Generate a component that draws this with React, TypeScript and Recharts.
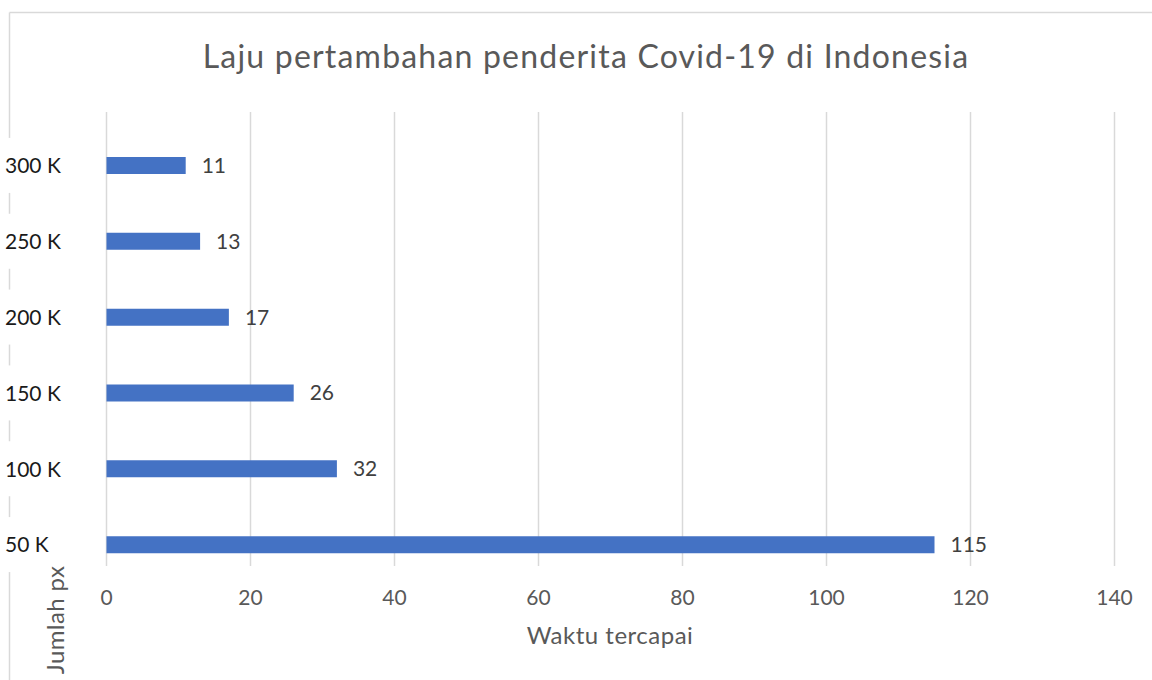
import React from 'react';
import { BarChart, Bar, XAxis, YAxis, CartesianGrid, LabelList } from 'recharts';

const categories = ['300 K', '250 K', '200 K', '150 K', '100 K', '50 K'];
const days = [11, 13, 17, 26, 32, 115];
const xTicks = [0, 20, 40, 60, 80, 100, 120, 140];
const title = 'Laju pertambahan penderita Covid-19 di Indonesia';
const xTitle = 'Waktu tercapai';
const yTitle = 'Jumlah px';

const data = categories.map((c, i) => ({ cat: c, value: days[i] }));
const FONT = 'Lato, "Noto Sans", sans-serif';

const YTick = (props: any) => {
  const { y, payload } = props;
  return (
    <g>
      <rect x={3} y={y - 28} width={62} height={55} fill="#ffffff" />
      <text x={5} y={y} dy="0.35em" textAnchor="start" fontFamily={FONT} fontSize={21} fill="#1a1a1a">
        {payload.value}
      </text>
    </g>
  );
};

const XTick = (props: any) => {
  const { x, y, payload } = props;
  return (
    <text x={x} y={y} dy="0.35em" textAnchor="middle" fontFamily={FONT} fontSize={21} fill="#595959">
      {payload.value}
    </text>
  );
};

export default function App() {
  return (
    <div style={{ position: 'absolute', left: 0, top: 0, width: 1152, height: 680, background: '#fff' }}>
      <svg width={1152} height={680} style={{ position: 'absolute', left: 0, top: 0 }}>
        <line x1={9.5} y1={12.5} x2={1152} y2={12.5} stroke="#d9d9d9" strokeWidth={1.5} />
        <line x1={9.5} y1={12.5} x2={9.5} y2={680} stroke="#d9d9d9" strokeWidth={1.5} />
      </svg>
      <div style={{ position: 'absolute', left: 0, top: 0 }}>
        <BarChart
          width={1152}
          height={680}
          data={data}
          layout="vertical"
          margin={{ top: 112, right: 37.5, bottom: 84, left: 0 }}
        >
          <CartesianGrid horizontal={false} stroke="#d9d9d9" strokeWidth={1.5} />
          <XAxis
            type="number"
            domain={[0, 140]}
            ticks={xTicks}
            axisLine={false}
            tickLine={false}
            tickSize={0}
            tickMargin={32}
            height={30}
            tick={XTick}
            interval={0}
          />
          <YAxis
            type="category"
            dataKey="cat"
            width={106.5}
            axisLine={false}
            tickLine={false}
            padding={{ top: 16, bottom: -17 }}
            tick={YTick}
            interval={0}
          />
          <Bar dataKey="value" fill="#4472c4" barSize={17} isAnimationActive={false}>
            <LabelList dataKey="value" position="right" offset={16} fontFamily={FONT} fontSize={21} fill="#404040" />
          </Bar>
        </BarChart>
      </div>
      <svg
        width={1152}
        height={680}
        style={{ position: 'absolute', left: 0, top: 0, pointerEvents: 'none' }}
      >
        <text
          x={586}
          y={57}
          dy="0.35em"
          textAnchor="middle"
          fontFamily={FONT}
          fontSize={32}
          letterSpacing={1.2}
          fill="#595959"
        >
          {title}
        </text>
        <text
          x={610}
          y={636}
          dy="0.35em"
          textAnchor="middle"
          fontFamily={FONT}
          fontSize={24}
          letterSpacing={0.5}
          fill="#595959"
        >
          {xTitle}
        </text>
        <text
          x={56}
          y={620}
          dy="0.35em"
          textAnchor="middle"
          fontFamily={FONT}
          fontSize={24}
          letterSpacing={0.4}
          fill="#595959"
          transform="rotate(-90 56 620)"
        >
          {yTitle}
        </text>
      </svg>
    </div>
  );
}
